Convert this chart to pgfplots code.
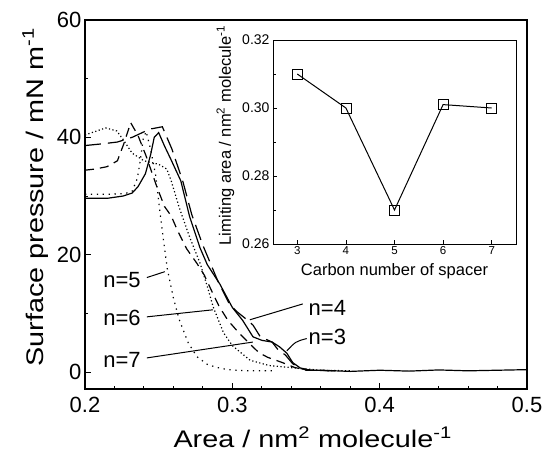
\documentclass[border=0pt]{standalone}
\usepackage{fontspec}
\setmainfont{Liberation Sans}
\newfontfamily\widefont[FakeStretch=1.2]{Liberation Sans}
\usepackage{pgfplots}
\pgfplotsset{compat=1.18}
\begin{document}
\begin{tikzpicture}
\begin{axis}[
  at={(0pt,0pt)}, anchor=south west,
  width=442pt, height=369pt, scale only axis,
  xmin=0.2, xmax=0.5, ymin=-2.9, ymax=60,
  xtick={0.2,0.3,0.4,0.5}, xticklabels={0.2,0.3,0.4,0.5},
  ytick={0,20,40,60}, yticklabels={0,20,40,60},
  minor x tick num=4, minor y tick num=1,
  tick align=inside, xtick pos=bottom, ytick pos=left,
  major tick length=6pt, minor tick length=3.5pt,
  every tick/.style={black, line width=0.9pt},
  axis line style={line width=1.3pt},
  ticklabel style={font=\fontsize{22}{22}\selectfont},
  xticklabel style={yshift=-5pt},
  xlabel={\widefont\fontsize{24}{24}\selectfont Area / nm\textsuperscript{2} molecule\textsuperscript{-1}},
  ylabel={\widefont\fontsize{24}{24}\selectfont Surface pressure / mN m\textsuperscript{-1}},
  xlabel style={at={(axis description cs:0.515,-0.158)}, anchor=base},
  ylabel style={at={(axis description cs:-0.095,0.519)}, anchor=base},
  every axis plot/.append style={black, line width=1.2pt},
]
% n=3 solid
\addplot[solid] coordinates {
(0.2,29.6) (0.215,29.6) (0.226,30.0) (0.232,30.5) (0.236,31.6) (0.241,33.8) (0.2445,37.0) (0.247,40.0) (0.250,40.8)
(0.254,38.5) (0.258,36.4) (0.265,32.6) (0.271,26.5) (0.278,21.2) (0.283,18.3) (0.2915,15.0) (0.300,11.0) (0.307,8.8)
(0.314,6.0) (0.320,5.4) (0.327,5.1) (0.332,4.3) (0.337,3.2) (0.341,1.6) (0.346,0.7) (0.353,0.3)
(0.36,0.3) (0.38,0.1) (0.40,0.3) (0.42,0.15) (0.44,0.35) (0.46,0.2) (0.48,0.3) (0.5,0.4)};
% n=4 long dash
\addplot[dash pattern=on 16pt off 7pt] coordinates {
(0.2,38.6) (0.212,38.9) (0.222,39.2) (0.232,40.0) (0.244,41.4) (0.2525,41.8) (0.259,38.0) (0.2665,32.4) (0.2725,26.8)
(0.280,21.6) (0.290,15.6) (0.298,11.6) (0.303,10.3) (0.310,8.9) (0.314,8.0) (0.319,6.0) (0.327,5.1) (0.331,3.8)
(0.336,2.9) (0.341,1.4) (0.346,0.6) (0.352,0.3) (0.37,0.2)};
% n=5 sparse dotted
\addplot[dash pattern=on 1.3pt off 4.6pt] coordinates {
(0.2,30.3) (0.215,30.3) (0.227,30.4) (0.232,30.8) (0.2355,33.0) (0.2375,36.0) (0.2395,39.7) (0.2415,41.0)
(0.2445,38.0) (0.248,33.5) (0.251,27.0) (0.2535,22.0) (0.256,17.4) (0.260,12.6) (0.264,8.9) (0.270,5.0)
(0.276,2.6) (0.283,1.3) (0.289,0.8) (0.297,0.4) (0.31,0.2) (0.33,0.2)};
% n=6 medium dash
\addplot[dash pattern=on 9pt off 6pt] coordinates {
(0.2,34.4) (0.207,34.6) (0.215,35.0) (0.222,36.0) (0.2265,39.0) (0.231,42.5) (0.236,40.3) (0.2415,36.8) (0.249,31.4)
(0.254,28.2) (0.2585,26.6) (0.263,24.0) (0.269,21.0) (0.276,18.5) (0.281,16.5) (0.286,13.8) (0.291,11.2) (0.297,8.8)
(0.304,6.8) (0.311,5.0) (0.318,3.3) (0.324,2.5) (0.334,1.6) (0.342,0.8) (0.35,0.3) (0.37,0.2)};
% n=7 dense dotted
\addplot[dash pattern=on 1.2pt off 2.4pt] coordinates {
(0.2,40.4) (0.207,41.0) (0.214,41.6) (0.2215,41.1) (0.226,39.6) (0.232,37.3) (0.240,36.0) (0.250,35.4) (0.2555,34.6)
(0.2585,32.6) (0.264,28.0) (0.271,23.0) (0.278,18.6) (0.283,14.6) (0.287,11.1) (0.294,6.7) (0.300,4.5) (0.312,2.0)
(0.325,1.1) (0.346,0.6) (0.36,0.3) (0.38,0.2)};
% labels
\draw[line width=1pt] (axis cs:0.242,16.1) -- (axis cs:0.2542,17.1);
\draw[line width=1pt] (axis cs:0.242,9.4) -- (axis cs:0.2868,10.6);
\draw[line width=1pt] (axis cs:0.242,2.4) -- (axis cs:0.3139,5.1);
\draw[line width=1pt] (axis cs:0.3478,11.6) -- (axis cs:0.3119,8.9);
\draw[line width=1pt] (axis cs:0.3505,5.7) .. controls (axis cs:0.343,5.2) .. (axis cs:0.337,3.6);
\node[font=\fontsize{22}{22}\selectfont] at (axis cs:0.2251,15.6) {n=5};
\node[font=\fontsize{22}{22}\selectfont] at (axis cs:0.2251,9.2) {n=6};
\node[font=\fontsize{22}{22}\selectfont] at (axis cs:0.2251,2.05) {n=7};
\node[font=\fontsize{22}{22}\selectfont] at (axis cs:0.3645,11.0) {n=4};
\node[font=\fontsize{22}{22}\selectfont] at (axis cs:0.3645,6.0) {n=3};
\end{axis}
\begin{axis}[
  at={(188pt,145pt)}, anchor=south west,
  width=243pt, height=204pt, scale only axis,
  axis background/.style={fill=white},
  xmin=2.5, xmax=7.5, ymin=0.26, ymax=0.32,
  xtick={3,4,5,6,7}, xticklabels={3,4,5,6,7},
  ytick={0.26,0.28,0.30,0.32}, yticklabels={0.26,0.28,0.30,0.32},
  minor y tick num=1,
  tick align=inside, xtick pos=bottom, ytick pos=left,
  major tick length=4pt, minor tick length=3pt,
  every tick/.style={black, line width=0.7pt},
  axis line style={line width=0.9pt},
  yticklabel style={font=\fontsize{14}{14}\selectfont},
  xticklabel style={font=\fontsize{11.5}{11.5}\selectfont, inner sep=2pt},
  xlabel={\fontsize{16.5}{16.5}\selectfont Carbon number of spacer},
  ylabel={\fontsize{16.5}{16.5}\selectfont Limiting area / nm\textsuperscript{2} molecule\textsuperscript{-1}},
  xlabel style={at={(axis description cs:0.5,-0.152)}, anchor=base},
  ylabel style={at={(axis description cs:-0.173,0.532)}, anchor=base},
]
\addplot[black, line width=1pt, mark=square, mark size=5pt, mark options={fill=white, line width=0.8pt, solid}] coordinates {
(3,0.310) (4,0.300) (5,0.270) (6,0.301) (7,0.300)};
\end{axis}
\pgfresetboundingbox
\path (-85pt,-62pt) rectangle (463pt,389pt);
\end{tikzpicture}
\end{document}
